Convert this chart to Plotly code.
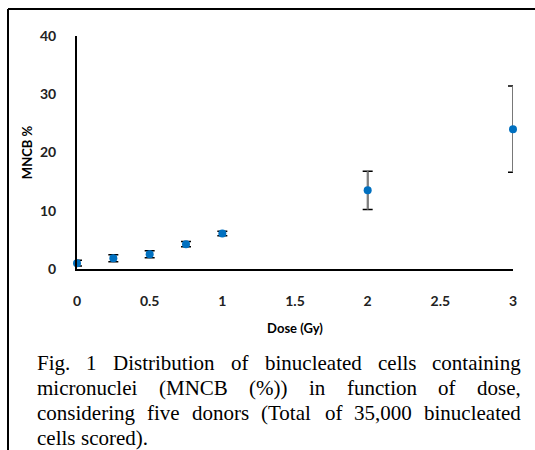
import plotly.graph_objects as go

# ---- data ----
dose = [0, 0.25, 0.5, 0.75, 1, 2, 3]
mncb = [1.0, 1.85, 2.55, 4.25, 6.1, 13.5, 24.0]
err = [0.5, 0.6, 0.6, 0.45, 0.4, 3.3, 7.4]
x_ticks = [0, 0.5, 1, 1.5, 2, 2.5, 3]
x_tick_labels = ["0", "0.5", "1", "1.5", "2", "2.5", "3"]
y_ticks = [0, 10, 20, 30, 40]
y_tick_labels = ["0", "10", "20", "30", "40"]
caption_lines = [
    "Fig. 1 Distribution of binucleated cells containing",
    "micronuclei (MNCB (%)) in function of dose,",
    "considering five donors (Total of 35,000 binucleated",
    "cells scored).",
]

W, H = 535, 450
L, R, T, B = 77, 513, 36, 269  # plot area in pixels

def px(xp):
    return (xp - L) / (R - L)

def py(yp):
    return (B - yp) / (B - T)

fig = go.Figure()
# black error bars (caps)
fig.add_trace(go.Scatter(
    x=dose, y=mncb, mode="markers", marker=dict(size=1, color="rgba(0,0,0,0)"),
    error_y=dict(type="data", array=err, color="#000000", thickness=1.5, width=5),
    showlegend=False, hoverinfo="skip", cliponaxis=False))
# grey stems on top
fig.add_trace(go.Scatter(
    x=dose, y=mncb, mode="markers", marker=dict(size=1, color="rgba(0,0,0,0)"),
    error_y=dict(type="data", array=err, color="#7f7f7f", thickness=1.8, width=0),
    showlegend=False, hoverinfo="skip", cliponaxis=False))
# markers
fig.add_trace(go.Scatter(
    x=dose, y=mncb, mode="markers", marker=dict(size=8, color="#0070C0"),
    showlegend=False, cliponaxis=False))

tickfont = dict(family="Lato", size=14, color="#222222", weight="bold")
fig.update_xaxes(range=[0, 3], tickvals=x_ticks, ticktext=x_tick_labels,
                 showgrid=False, zeroline=False, showline=True, linecolor="black",
                 linewidth=2, ticks="", ticklabelstandoff=18, tickfont=tickfont,
                 title=dict(text="Dose (Gy)", font=dict(family="Lato", size=13, color="black", weight="bold"),
                            standoff=16))
fig.update_yaxes(range=[0, 40], tickvals=y_ticks, ticktext=y_tick_labels,
                 showgrid=False, zeroline=False, showline=True, linecolor="black",
                 linewidth=2, ticks="", ticklabelstandoff=16, tickfont=tickfont,
                 title=dict(text="MNCB %", font=dict(family="Lato", size=13, color="black", weight="bold"),
                            standoff=4))

# frame lines (top and left)
shapes = [
    dict(type="line", xref="paper", yref="paper", x0=px(8), x1=px(W + 5), y0=py(9), y1=py(9),
         line=dict(color="black", width=2)),
    dict(type="line", xref="paper", yref="paper", x0=px(8), x1=px(8), y0=py(9), y1=py(H + 5),
         line=dict(color="black", width=2)),
]

# justified caption, word by word using Times metrics
cw = {" ": 250, "(": 333, ")": 333, "%": 833, ",": 250, ".": 250,
      "A": 722, "B": 667, "C": 667, "D": 722, "F": 556, "M": 889, "N": 722, "T": 611,
      "a": 444, "b": 500, "c": 444, "d": 500, "e": 444, "f": 333, "g": 500, "h": 500,
      "i": 278, "l": 278, "m": 778, "n": 500, "o": 500, "r": 333, "s": 389, "t": 278,
      "u": 500, "v": 500, "y": 500}
for d in "0123456789":
    cw[d] = 500
fs = 21
def wwidth(w):
    return sum(cw.get(c, 500) for c in w) * fs / 1000.0

cap_x0, cap_x1 = 35, 519
line_y = [363, 388, 413, 438]
annotations = []
capfont = dict(family="Liberation Serif", size=fs, color="black")
for i, line in enumerate(caption_lines):
    words = line.split(" ")
    last = i == len(caption_lines) - 1
    widths = [wwidth(w) for w in words]
    if last or len(words) == 1:
        gap = cw[" "] * fs / 1000.0
    else:
        gap = (cap_x1 - cap_x0 - sum(widths)) / (len(words) - 1)
    xcur = cap_x0
    for w, wd in zip(words, widths):
        annotations.append(dict(text=w, xref="paper", yref="paper", x=px(xcur), y=py(line_y[i]),
                                xanchor="left", yanchor="middle", showarrow=False, font=capfont))
        xcur += wd + gap

fig.update_layout(width=W, height=H, margin=dict(l=L, r=W - R, t=T, b=H - B),
                  paper_bgcolor="white", plot_bgcolor="white",
                  shapes=shapes, annotations=annotations)
fig.write_html("out.html")
